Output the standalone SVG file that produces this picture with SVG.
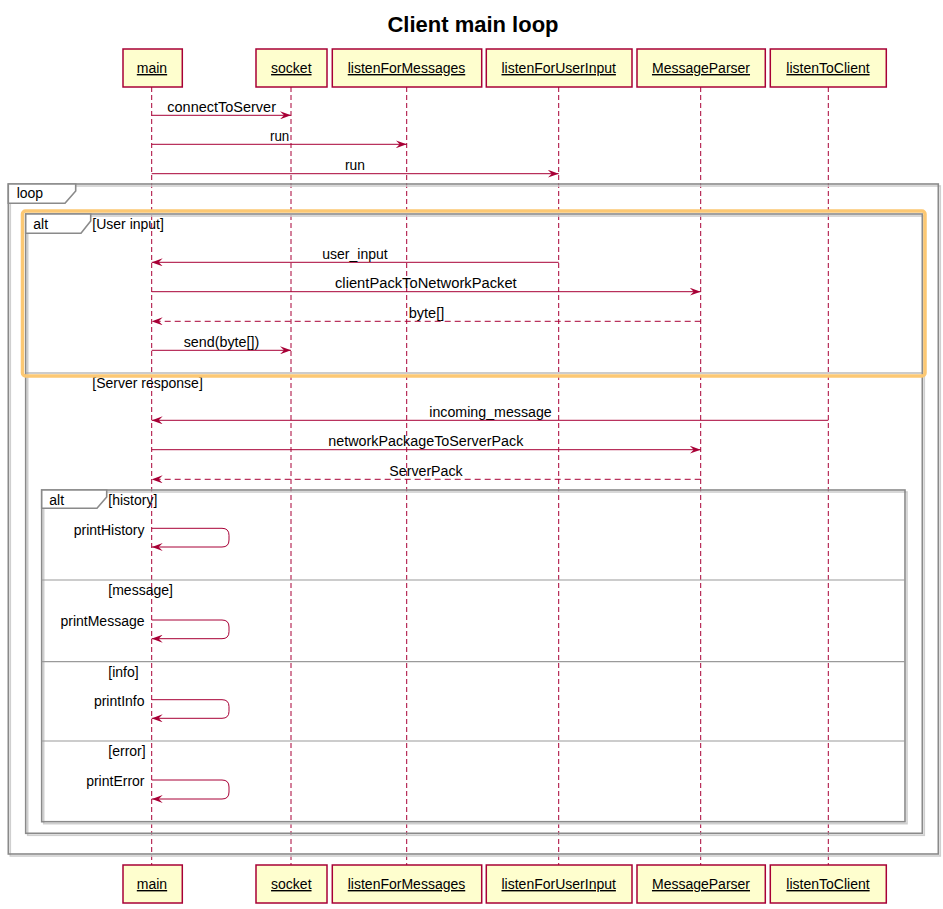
<svg xmlns="http://www.w3.org/2000/svg" width="943" height="909" viewBox="0 0 943 909">
<style>
text{font-family:"Liberation Sans",Arial,sans-serif;fill:#000}
.title{font-size:22px;font-weight:bold}
.pbox{fill:#FEFECE;stroke:#A80036;stroke-width:1.5}
.pname{font-size:14px;text-decoration:underline;text-anchor:middle}
.life{stroke:#A80036;stroke-width:1;stroke-dasharray:5,3;fill:none}
.msg{stroke:#A80036;stroke-width:1;fill:none;marker-end:url(#ah)}
.ret{stroke:#A80036;stroke-width:1;fill:none;stroke-dasharray:6,4;marker-end:url(#ah)}
.lbl{font-size:14px}
.self{font-size:14px;text-anchor:end}
.frame{fill:none;stroke:#8a8a8a;stroke-width:1.6}
.shadow{fill:none;stroke:#cfcfcf;stroke-width:1.6}
.tab{fill:#fff;stroke:#8a8a8a;stroke-width:1.6}
.sep{stroke:#9a9a9a;stroke-width:1.2}
.ftxt{font-size:14px}
.guard{font-size:14px}
.hl{fill:none;stroke:#FCC873;stroke-width:3.5}
</style>
<defs>
<marker id="ah" viewBox="0 0 11 8" refX="11" refY="4" markerWidth="11" markerHeight="8" markerUnits="userSpaceOnUse" orient="auto">
<path d="M0,0 L11,4 L0,8 L4,4 Z" fill="#A80036"/>
</marker>
</defs>
<rect width="943" height="909" fill="#fff"/>
<text class="title" x="473" y="32" text-anchor="middle">Client main loop</text>

<g id="lifelines">
<line class="life" x1="151.7" y1="87" x2="151.7" y2="865"/>
<line class="life" x1="291" y1="87" x2="291" y2="865"/>
<line class="life" x1="406.7" y1="87" x2="406.7" y2="865"/>
<line class="life" x1="558.7" y1="87" x2="558.7" y2="865"/>
<line class="life" x1="700.7" y1="87" x2="700.7" y2="865"/>
<line class="life" x1="828.3" y1="87" x2="828.3" y2="865"/>
</g>

<g id="frames">
<g id="frame-loop">
<rect class="shadow" x="10.3" y="186" width="930" height="670"/>
<rect class="frame" x="8.3" y="184" width="930" height="670"/>
<path class="tab" d="M8.3,184 H75.7 V191 L65,203.3 H8.3 Z"/>
<text class="ftxt" x="16.7" y="198">loop</text>
</g>
<g id="frame-alt-outer">
<rect class="shadow" x="27.7" y="216" width="896.6" height="619.3"/>
<rect class="frame" x="25.7" y="214" width="896.6" height="619.3"/>
<path class="tab" d="M25.7,214 H90.7 V221 L81,233.3 H25.7 Z"/>
<text class="ftxt" x="33.3" y="228.5">alt</text>
<text class="guard" x="92.3" y="229">[User input]</text>
<line class="sep" x1="25.7" y1="373" x2="922.3" y2="373"/>
<text class="guard" x="92.3" y="387.5">[Server response]</text>
</g>
<g id="frame-alt-inner">
<rect class="shadow" x="43.7" y="492" width="863.3" height="331.7"/>
<rect class="frame" x="41.7" y="490" width="863.3" height="331.7"/>
<path class="tab" d="M41.7,490 H106.7 V497 L97,508.3 H41.7 Z"/>
<text class="ftxt" x="49.3" y="505">alt</text>
<text class="guard" x="108.3" y="505">[history]</text>
<line class="sep" x1="41.7" y1="580" x2="905" y2="580"/>
<text class="guard" x="108.3" y="595">[message]</text>
<line class="sep" x1="41.7" y1="661.7" x2="905" y2="661.7"/>
<text class="guard" x="108.3" y="676.5">[info]</text>
<line class="sep" x1="41.7" y1="741" x2="905" y2="741"/>
<text class="guard" x="108.3" y="756">[error]</text>
</g>
<rect id="highlight" class="hl" x="22.5" y="211" width="902.5" height="165" rx="3"/>
</g>

<g id="connectors">
<line class="msg" x1="151.7" y1="115.3" x2="291" y2="115.3"/>
<text class="lbl" x="167.3" y="111.8" textLength="108.7" lengthAdjust="spacingAndGlyphs">connectToServer</text>
<line class="msg" x1="151.7" y1="144.3" x2="406.7" y2="144.3"/>
<text class="lbl" x="270" y="140.8" textLength="19.3" lengthAdjust="spacingAndGlyphs">run</text>
<line class="msg" x1="151.7" y1="173.7" x2="558.7" y2="173.7"/>
<text class="lbl" x="345" y="170.2" textLength="20" lengthAdjust="spacingAndGlyphs">run</text>

<line class="msg" x1="558.7" y1="262.3" x2="151.7" y2="262.3"/>
<text class="lbl" x="322.3" y="258.8" textLength="65.4" lengthAdjust="spacingAndGlyphs">user_input</text>
<line class="msg" x1="151.7" y1="291.7" x2="700.7" y2="291.7"/>
<text class="lbl" x="335" y="288.2" textLength="181.7" lengthAdjust="spacingAndGlyphs">clientPackToNetworkPacket</text>
<line class="ret" x1="700.7" y1="321.3" x2="151.7" y2="321.3"/>
<text class="lbl" x="408.7" y="317.8" textLength="35.6" lengthAdjust="spacingAndGlyphs">byte[]</text>
<line class="msg" x1="151.7" y1="350.3" x2="291" y2="350.3"/>
<text class="lbl" x="183.7" y="346.8" textLength="75.6" lengthAdjust="spacingAndGlyphs">send(byte[])</text>

<line class="msg" x1="828.3" y1="420.3" x2="151.7" y2="420.3"/>
<text class="lbl" x="429.3" y="416.8" textLength="122.4" lengthAdjust="spacingAndGlyphs">incoming_message</text>
<line class="msg" x1="151.7" y1="449.7" x2="700.7" y2="449.7"/>
<text class="lbl" x="328.3" y="446.2" textLength="195" lengthAdjust="spacingAndGlyphs">networkPackageToServerPack</text>
<line class="ret" x1="700.7" y1="479.3" x2="151.7" y2="479.3"/>
<text class="lbl" x="389.3" y="475.8" textLength="73.4" lengthAdjust="spacingAndGlyphs">ServerPack</text>

<path class="msg" d="M151.7,528.3 H222 Q229,528.3 229,535.3 V540 Q229,547 222,547 H151.7"/>
<text class="self" x="144.5" y="535">printHistory</text>
<path class="msg" d="M151.7,620 H222 Q229,620 229,627 V631.7 Q229,638.7 222,638.7 H151.7"/>
<text class="self" x="144.5" y="626">printMessage</text>
<path class="msg" d="M151.7,699.7 H222 Q229,699.7 229,706.7 V711.3 Q229,718.3 222,718.3 H151.7"/>
<text class="self" x="144.5" y="706">printInfo</text>
<path class="msg" d="M151.7,780 H222 Q229,780 229,787 V792 Q229,799 222,799 H151.7"/>
<text class="self" x="144.5" y="786">printError</text>
</g>

<g id="p-main">
<rect class="pbox" x="123" y="49" width="59.3" height="38"/>
<text class="pname" x="152" y="73">main</text>
<rect class="pbox" x="123" y="865" width="59.3" height="38"/>
<text class="pname" x="152" y="889">main</text>
</g>
<g id="p-socket">
<rect class="pbox" x="256" y="49" width="71" height="38"/>
<text class="pname" x="291.3" y="73">socket</text>
<rect class="pbox" x="256" y="865" width="71" height="38"/>
<text class="pname" x="291.3" y="889">socket</text>
</g>
<g id="p-listenForMessages">
<rect class="pbox" x="332.3" y="49" width="149.4" height="38"/>
<text class="pname" x="406.5" y="73">listenForMessages</text>
<rect class="pbox" x="332.3" y="865" width="149.4" height="38"/>
<text class="pname" x="406.5" y="889">listenForMessages</text>
</g>
<g id="p-listenForUserInput">
<rect class="pbox" x="486.3" y="49" width="145.7" height="38"/>
<text class="pname" x="558.7" y="73">listenForUserInput</text>
<rect class="pbox" x="486.3" y="865" width="145.7" height="38"/>
<text class="pname" x="558.7" y="889">listenForUserInput</text>
</g>
<g id="p-MessageParser">
<rect class="pbox" x="637" y="49" width="128.3" height="38"/>
<text class="pname" x="701" y="73">MessageParser</text>
<rect class="pbox" x="637" y="865" width="128.3" height="38"/>
<text class="pname" x="701" y="889">MessageParser</text>
</g>
<g id="p-listenToClient">
<rect class="pbox" x="770.3" y="49" width="116" height="38"/>
<text class="pname" x="828" y="73">listenToClient</text>
<rect class="pbox" x="770.3" y="865" width="116" height="38"/>
<text class="pname" x="828" y="889">listenToClient</text>
</g>
</svg>
